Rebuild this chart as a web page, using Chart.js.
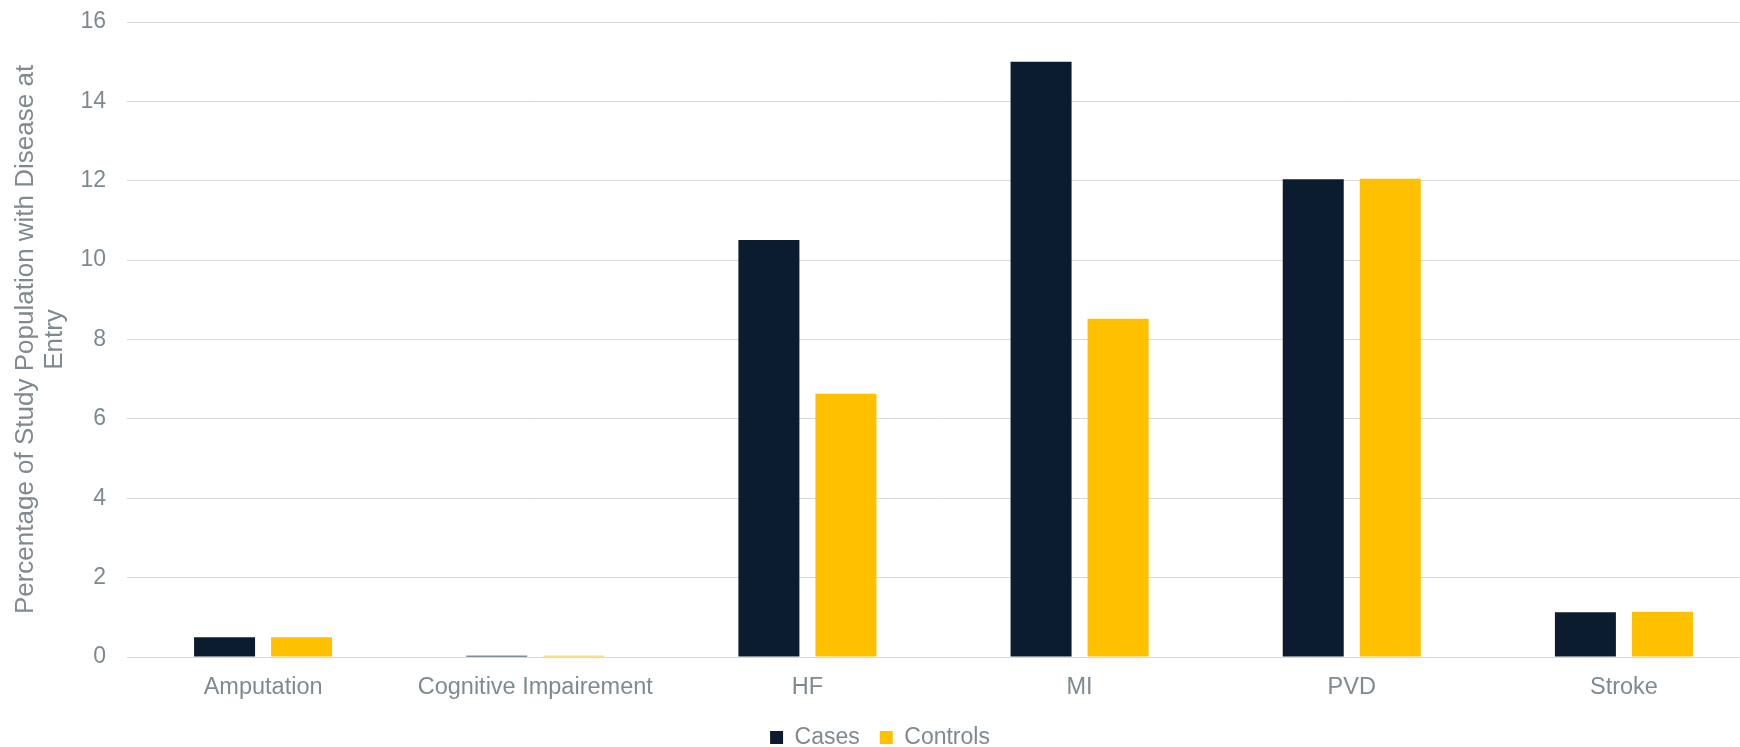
<!DOCTYPE html>
<html>
<head>
<meta charset="utf-8">
<script src="https://cdn.jsdelivr.net/npm/chart.js@4/dist/chart.umd.min.js"></script>
<style>
  html, body { margin: 0; padding: 0; background: #ffffff; overflow: hidden; }
  #wrap { width: 1760px; height: 747px; }
</style>
</head>
<body>
<div id="wrap"><canvas id="c" width="1760" height="747"></canvas></div>
<script>
const categories = ["Amputation", "Cognitive Impairement", "HF", "MI", "PVD", "Stroke"];
const casesValues = [0.5, 0.03, 10.51, 15.0, 12.04, 1.13];
const controlsValues = [0.5, 0.03, 6.63, 8.52, 12.05, 1.14];
const yTitle = ["Percentage of Study Population with Disease at", "Entry"];

const textColor = '#7f8a90';
const gridColor = '#d9d9d9';
const fam = '"Liberation Sans", Arial, sans-serif';

new Chart(document.getElementById('c'), {
  type: 'bar',
  data: {
    labels: categories,
    datasets: [
      { label: 'Cases', data: casesValues, backgroundColor: '#0b1c2e', borderWidth: 0,
        categoryPercentage: 0.566, barPercentage: 0.792 },
      { label: 'Controls', data: controlsValues, backgroundColor: '#ffc000', borderWidth: 0,
        categoryPercentage: 0.566, barPercentage: 0.792 }
    ]
  },
  options: {
    responsive: false,
    animation: false,
    layout: { padding: { top: 22, right: 0, bottom: 0, left: 0 } },
    plugins: {
      legend: {
        position: 'bottom',
        maxHeight: 41,
        labels: {
          boxWidth: 13, boxHeight: 13, padding: 20,
          color: textColor,
          font: { family: fam, size: 23 }
        }
      },
      tooltip: { enabled: false }
    },
    scales: {
      x: {
        grid: { display: false, drawTicks: false },
        border: { display: true, color: gridColor, width: 1 },
        ticks: { color: textColor, padding: 16, font: { family: fam, size: 23.5 }, maxRotation: 0 },
        afterFit: (s) => { s.height = 49; }
      },
      y: {
        min: 0, max: 16,
        ticks: { stepSize: 2, color: textColor, padding: 21, font: { family: fam, size: 23 } },
        grid: { color: gridColor, lineWidth: 1, drawTicks: false },
        border: { display: false },
        title: {
          display: true, text: yTitle, color: textColor,
          font: { family: fam, size: 26, lineHeight: 1.1 },
          padding: { top: 12, bottom: 0 }
        },
        afterFit: (s) => { s.width = 127; s.paddingTop = 0; s.paddingBottom = 0; }
      }
    }
  }
});
</script>
</body>
</html>
